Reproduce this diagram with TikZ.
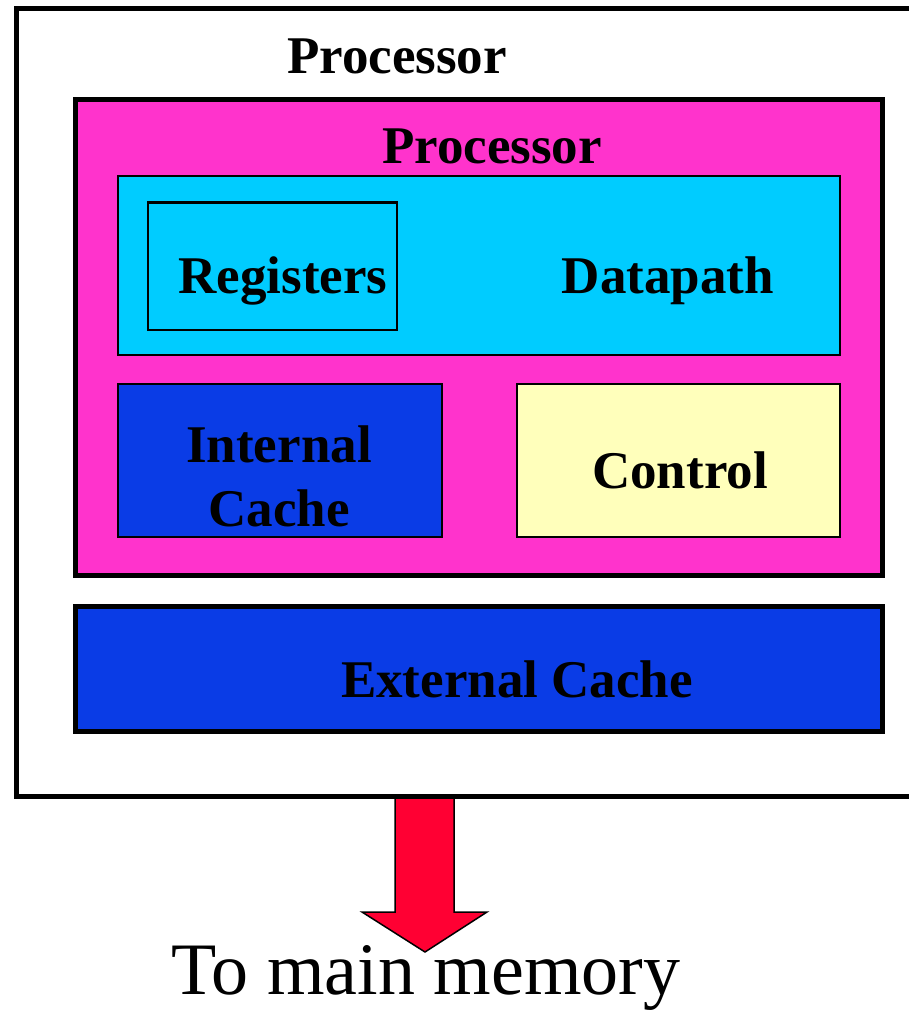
\documentclass[tikz,border=0pt]{standalone}
\usepackage{fontspec}
\setmainfont{Liberation Serif}
\definecolor{procpink}{HTML}{FF33CC}
\definecolor{dpcyan}{HTML}{00CCFF}
\definecolor{cacheblue}{HTML}{0A3CE6}
\definecolor{ctrlyellow}{HTML}{FFFFBB}
\definecolor{arrowred}{HTML}{FF0033}
\begin{document}
\begin{tikzpicture}[x=1pt,y=-1pt,
  thick box/.style={draw=black,line width=5pt,rectangle,inner sep=0pt,outer sep=0pt},
  thin box/.style={draw=black,line width=2.2pt,rectangle,inner sep=0pt,outer sep=0pt},
  label/.style={font=\fontsize{53}{64}\selectfont\bfseries,anchor=base,inner sep=0pt},
  caption/.style={font=\fontsize{74}{80}\selectfont,anchor=base,inner sep=0pt}]
\useasboundingbox (0,0) rectangle (909,1010);
\clip (0,0) rectangle (909,1010);
% outgoing arrow, drawn below the chip frame
\draw[fill=arrowred,draw=black,line width=1.5pt,line join=miter]
  (395,797) -- (454,797) -- (454,912) -- (487,912) -- (425,952) -- (362,912) -- (395,912) -- cycle;
% chip frame (right edge runs past the page)
\node[thick box,minimum width=900pt,minimum height=788pt] (chip) at (466.5,402.5) {};
\node[label] (chiplbl) at (397,73) {Processor};
% processor
\node[thick box,fill=procpink,minimum width=807pt,minimum height=476pt] (proc) at (479,337.5) {};
\node[label] (proclbl) at (492,163) {Processor};
% datapath with registers
\node[thin box,fill=dpcyan,minimum width=722pt,minimum height=179pt] (dp) at (479,265.5) {};
\node[thin box,minimum width=249pt,minimum height=127.5pt] (regs) at (272.5,266.25) {};
\node[label] (regslbl) at (283,293) {Registers};
\node[label] (dplbl) at (668,293) {Datapath};
% internal cache and control
\node[thin box,fill=cacheblue,minimum width=324pt,minimum height=153pt] (icache) at (280,460.5) {};
\node[label,align=center] (icachelbl) at (279,526) {Internal\\Cache};
\node[thin box,fill=ctrlyellow,minimum width=323pt,minimum height=153pt] (ctrl) at (678.5,460.5) {};
\node[label] (ctrllbl) at (680,488) {Control};
% external cache
\node[thick box,fill=cacheblue,minimum width=807pt,minimum height=125.5pt] (ecache) at (479,668.75) {};
\node[label] (ecachelbl) at (517,697) {External Cache};
% destination
\node[caption] (mem) at (426,994) {To main memory};
\end{tikzpicture}
\end{document}
